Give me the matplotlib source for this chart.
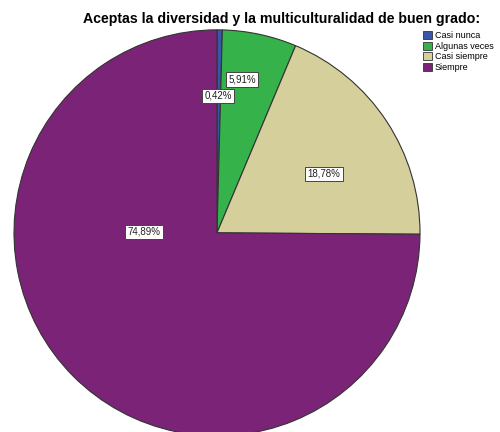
import numpy as np
import matplotlib.pyplot as plt

plt.rcParams['font.family'] = ['Liberation Sans', 'DejaVu Sans']

# data
categories = ['Casi nunca', 'Algunas veces', 'Casi siempre', 'Siempre']
values = [0.42, 5.91, 18.78, 74.89]
colors = ['#3a56a8', '#35b34a', '#d5cf9c', '#7b2477']
title = 'Aceptas la diversidad y la multiculturalidad de buen grado:'

# label anchor points (data units, pie radius = 1)
label_pos = [(0.005, 0.675), (0.123, 0.756), (0.527, 0.29), (-0.36, 0.005)]

fig = plt.figure(figsize=(5, 4.32), dpi=100)
ax = fig.add_axes([0.028, -0.009, 0.812, 0.94])

wedges, _ = ax.pie(values, colors=colors, startangle=90, counterclock=False,
                   radius=1.0, wedgeprops=dict(edgecolor='#333333', linewidth=0.8))
ax.set_xlim(-1, 1)
ax.set_ylim(-1, 1)
ax.set_aspect('equal')
ax.axis('off')

for v, (x, y) in zip(values, label_pos):
    ax.text(x, y, ('%.2f%%' % v).replace('.', ','), ha='center', va='center',
            fontsize=7, color='#222222',
            bbox=dict(boxstyle='square,pad=0.22', fc='white', ec='#444444', lw=0.7))

fig.text(0.564, 0.957, title, ha='center', va='center', fontsize=10.2,
         fontweight='bold')

handles = [plt.Rectangle((0, 0), 1, 1, fc=c, ec='#333333', lw=0.6) for c in colors]
fig.legend(handles, categories, loc='upper left', bbox_to_anchor=(0.835, 0.94),
           fontsize=6.5, frameon=False, handlelength=1.0, handleheight=1.0,
           handletextpad=0.3, labelspacing=0.15, borderpad=0.1)

fig.savefig('out.png', dpi=100)
